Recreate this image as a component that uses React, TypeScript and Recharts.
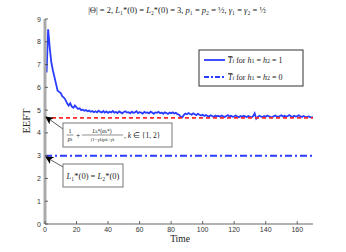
import React from 'react';
import { LineChart, Line, XAxis, YAxis, ReferenceLine } from 'recharts';

const times: number[] = Array.from({ length: 170 }, (_, i) => i + 1);
const eeftValues: number[] = [
  6.65, 8.55, 7.75, 7.1, 6.75, 6.45, 6.15, 5.85, 5.8, 5.75,
  5.6, 5.55, 5.45, 5.3, 5.2, 5.3, 5.15, 5.1, 5.2, 5.12,
  5.05, 5.08, 5.0, 5.02, 4.97, 5.0, 4.95, 4.98, 4.93, 4.96,
  4.91, 4.95, 4.9, 4.97, 4.92, 4.9, 4.96, 4.89, 4.94, 4.88,
  4.93, 4.9, 4.96, 4.89, 4.92, 4.87, 4.94, 4.9, 4.86, 4.92,
  4.95, 4.89, 4.91, 4.86, 4.93, 4.88, 4.9, 4.95, 4.87, 4.91,
  4.89, 4.85, 4.92, 4.88, 4.9, 4.86, 4.93, 4.89, 4.84, 4.9,
  4.88, 4.92, 4.86, 4.89, 4.84, 4.9, 4.87, 4.83, 4.89, 4.86,
  4.9, 4.85, 4.88, 4.82, 4.8, 4.72, 4.68, 4.78, 4.85, 4.82,
  4.87, 4.83, 4.8, 4.86, 4.82, 4.78, 4.84, 4.8, 4.76, 4.79,
  4.74, 4.78, 4.75, 4.72, 4.77, 4.74, 4.7, 4.76, 4.73, 4.75,
  4.71, 4.76, 4.73, 4.7, 4.74, 4.78, 4.72, 4.75, 4.71, 4.73,
  4.76, 4.72, 4.69, 4.74, 4.71, 4.75, 4.72, 4.7, 4.74, 4.71,
  4.68, 4.73, 4.86, 4.62, 4.7, 4.75, 4.72, 4.69, 4.74, 4.71,
  4.76, 4.73, 4.7, 4.68, 4.73, 4.76, 4.72, 4.7, 4.74, 4.77,
  4.72, 4.75, 4.71, 4.74, 4.78, 4.73, 4.7, 4.75, 4.72, 4.74,
  4.77, 4.73, 4.7, 4.74, 4.71, 4.68, 4.72, 4.7, 4.67, 4.69,
];
const boundValue = 4.66;
const initialValue = 3;
const xTicks: number[] = [0, 20, 40, 60, 80, 100, 120, 140, 160];
const yTicks: number[] = [0, 1, 2, 3, 4, 5, 6, 7, 8, 9];

const data = times.map((t, i) => ({ t, v: eeftValues[i] }));

const BLUE = '#2a3cff';
const RED = '#ff2a2a';
const SANS = 'Liberation Sans, Arial, sans-serif';
const SERIF = 'Liberation Serif, Times New Roman, serif';

const XTick = (props: any) => {
  const { x, y, payload } = props;
  return (
    <g>
      <line x1={x} x2={x} y1={y} y2={y - 3} stroke="#444" strokeWidth={0.8} />
      <text x={x} y={y + 7.5} textAnchor="middle" fontSize={7} fontFamily={SANS} fill="#333">
        {payload.value}
      </text>
    </g>
  );
};

const YTick = (props: any) => {
  const { x, y, payload } = props;
  return (
    <g>
      <line x1={x} x2={x + 3} y1={y} y2={y} stroke="#444" strokeWidth={0.8} />
      <text x={x - 4} y={y + 2.5} textAnchor="end" fontSize={7} fontFamily={SANS} fill="#333">
        {payload.value}
      </text>
    </g>
  );
};

export default function App() {
  return (
    <div style={{ position: 'absolute', left: 0, top: 0, width: 346, height: 252, background: '#fff' }}>
      <LineChart width={346} height={252} data={data} margin={{ top: 19, right: 33, left: 0, bottom: 0 }}>
        <XAxis
          dataKey="t"
          type="number"
          domain={[0, 170]}
          ticks={xTicks}
          interval={0}
          height={28}
          tickSize={0}
          tickMargin={0}
          tickLine={false}
          tick={<XTick />}
          axisLine={{ stroke: '#999', strokeWidth: 1.5 }}
          allowDataOverflow
        />
        <YAxis
          type="number"
          domain={[0, 9]}
          ticks={yTicks}
          interval={0}
          width={45}
          tickSize={0}
          tickMargin={0}
          tickLine={false}
          tick={<YTick />}
          axisLine={{ stroke: '#aaa', strokeWidth: 3 }}
          allowDataOverflow
        />
        <ReferenceLine y={initialValue} stroke={BLUE} strokeWidth={2} strokeDasharray="7 3 2 3" />
        <Line
          dataKey="v"
          type="linear"
          stroke={BLUE}
          strokeWidth={1.8}
          dot={false}
          isAnimationActive={false}
        />
        <ReferenceLine y={boundValue} stroke={RED} strokeWidth={1.8} strokeDasharray="4 3" />
      </LineChart>
      <svg
        width={346}
        height={252}
        style={{ position: 'absolute', left: 0, top: 0, pointerEvents: 'none' }}
      >
        <defs>
          <marker id="arr" markerWidth="8" markerHeight="8" refX="7" refY="4" orient="auto" markerUnits="userSpaceOnUse">
            <path d="M0,0 L8,4 L0,8 L2,4 z" fill="#000" />
          </marker>
        </defs>
        {/* title */}
        <text x={177} y={13} textAnchor="middle" fontSize={8.5} fontFamily={SERIF} fill="#222">
          |Θ| = 2, <tspan fontStyle="italic">L</tspan>₁*(0) = <tspan fontStyle="italic">L</tspan>₂*(0) = 3, <tspan fontStyle="italic">p</tspan>₁ = <tspan fontStyle="italic">p</tspan>₂ = ½, <tspan fontStyle="italic">γ</tspan>₁ = <tspan fontStyle="italic">γ</tspan>₂ = ½
        </text>
        {/* axis labels */}
        <text x={180} y={242} textAnchor="middle" fontSize={9.5} fontFamily={SERIF} fill="#222">Time</text>
        <text
          x={30}
          y={121}
          textAnchor="middle"
          fontSize={10.5}
          fontFamily={SERIF}
          fill="#222"
          transform="rotate(-90 30 121)"
        >
          EEFT
        </text>
        {/* legend */}
        <rect x={199} y={50} width={104} height={36} fill="#fff" stroke="#333" strokeWidth={1} />
        <line x1={204} x2={225} y1={60} y2={60} stroke={BLUE} strokeWidth={1.8} />
        <text x={228} y={63} fontSize={8} fontFamily={SERIF} fill="#222">
          <tspan fontStyle="italic" textDecoration="overline">T</tspan><tspan fontStyle="italic" fontSize={6}>i</tspan> for <tspan fontStyle="italic">h</tspan><tspan fontSize={6}>1</tspan> = <tspan fontStyle="italic">h</tspan><tspan fontSize={6}>2</tspan> = 1
        </text>
        <line x1={204} x2={225} y1={77} y2={77} stroke={BLUE} strokeWidth={1.8} strokeDasharray="5 2 2 2" />
        <text x={228} y={80} fontSize={8} fontFamily={SERIF} fill="#222">
          <tspan fontStyle="italic" textDecoration="overline">T</tspan><tspan fontStyle="italic" fontSize={6}>i</tspan> for <tspan fontStyle="italic">h</tspan><tspan fontSize={6}>1</tspan> = <tspan fontStyle="italic">h</tspan><tspan fontSize={6}>2</tspan> = 0
        </text>
        {/* annotation 1 */}
        <line x1={63} y1={129} x2={46} y2={117} stroke="#333" strokeWidth={0.8} markerEnd="url(#arr)" />
        <rect x={63} y={123} width={109} height={24} fill="#fff" stroke="#777" strokeWidth={1} />
        <g fontFamily={SERIF} fill="#222">
          <text x={70} y={133} textAnchor="middle" fontSize={6}>1</text>
          <line x1={66.5} x2={73.5} y1={135} y2={135} stroke="#222" strokeWidth={0.5} />
          <text x={70} y={141} textAnchor="middle" fontSize={5.5} fontStyle="italic">p<tspan fontSize={4}>k</tspan></text>
          <text x={78} y={137.5} textAnchor="middle" fontSize={7.5}>+</text>
          <text x={102} y={133} textAnchor="middle" fontSize={5.5}><tspan fontStyle="italic">L</tspan><tspan fontSize={4}>k</tspan>*(<tspan fontStyle="italic">α</tspan><tspan fontSize={4}>k</tspan>*)</text>
          <line x1={82} x2={123} y1={135} y2={135} stroke="#222" strokeWidth={0.5} />
          <text x={102.5} y={141} textAnchor="middle" fontSize={5}>(1−<tspan fontStyle="italic">γ</tspan><tspan fontSize={3.8}>k</tspan>)<tspan fontStyle="italic">p</tspan><tspan fontSize={3.8}>k</tspan>+<tspan fontStyle="italic">γ</tspan><tspan fontSize={3.8}>k</tspan></text>
          <text x={124} y={138} fontSize={7.5}>, <tspan fontStyle="italic">k</tspan> ∈ {'{'}1, 2{'}'}</text>
        </g>
        {/* annotation 2 */}
        <line x1={63} y1={167} x2={46} y2={157} stroke="#333" strokeWidth={0.8} markerEnd="url(#arr)" />
        <rect x={63} y={164} width={60} height={23} fill="#fff" stroke="#777" strokeWidth={1} />
        <text x={93} y={179} textAnchor="middle" fontSize={8.5} fontFamily={SERIF} fill="#222">
          <tspan fontStyle="italic">L</tspan>₁*(0) = <tspan fontStyle="italic">L</tspan>₂*(0)
        </text>
      </svg>
    </div>
  );
}
